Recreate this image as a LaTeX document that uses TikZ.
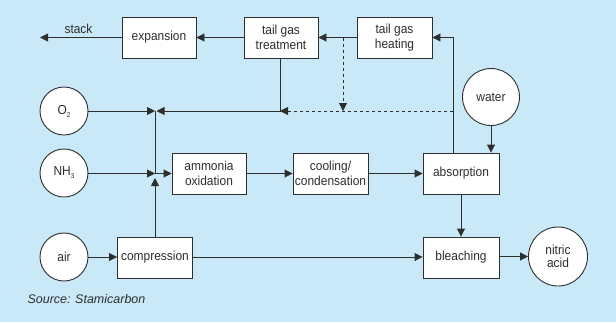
\documentclass[tikz,border=0pt]{standalone}
\usepackage{fontspec}
\setmainfont[FakeStretch=0.92]{Liberation Sans}
\newfontfamily\srcfont{Liberation Sans}
\usetikzlibrary{arrows.meta,calc}
\definecolor{bg}{HTML}{C9E9F8}
\definecolor{ln}{HTML}{2E2E2E}
\begin{document}
\begin{tikzpicture}[x=1pt,y=-1pt,
  font=\fontsize{13}{15.5}\selectfont,
  every node/.style={text=ln},
  boxnode/.style={draw=ln,line width=0.9pt,fill=white,minimum height=41pt,inner sep=1pt,align=center},
  circnode/.style={draw=ln,line width=0.9pt,fill=white,circle,inner sep=0pt,align=center},
  arr/.style={draw=ln,line width=0.9pt,-{Triangle[length=8pt,width=8pt]}},
  plain/.style={draw=ln,line width=0.9pt},
  dsh/.style={draw=ln,line width=0.9pt,dash pattern=on 3.5pt off 2.5pt}]
\fill[bg] (0,0) rectangle (616,322);
\useasboundingbox (0,0) rectangle (616,322);
% nodes
\node[boxnode,minimum width=74pt] (exp) at (159,37.5) {expansion};
\node[boxnode,minimum width=74pt] (tgt) at (281,37.5) {tail gas\\treatment};
\node[boxnode,minimum width=75pt] (tgh) at (394.5,37.5) {tail gas\\heating};
\node[circnode,minimum size=48pt] (o2) at (64,111) {O{\fontsize{7}{7}\selectfont\raisebox{-3pt}{2}}};
\node[circnode,minimum size=48pt] (nh3) at (64,173) {NH{\fontsize{7}{7}\selectfont\raisebox{-3pt}{3}}};
\node[circnode,minimum size=48pt] (air) at (64,257) {air};
\node[boxnode,minimum width=74pt] (ox) at (209,173.5) {ammonia\\oxidation};
\node[boxnode,minimum width=75pt] (cool) at (330.5,173.5) {cooling/\\condensation};
\node[boxnode,minimum width=76pt] (abs) at (461,173.5) {absorption};
\node[boxnode,minimum width=75pt] (comp) at (155,257.5) {compression};
\node[boxnode,minimum width=76pt] (bleach) at (461,257.5) {bleaching};
\node[circnode,minimum size=57pt] (water) at (491,97) {water};
\node[circnode,minimum size=59pt] (nitric) at (558,256.5) {nitric\\[-3pt]acid};
\node[anchor=base] (stk) at (78.5,33) {stack};
\node[anchor=base west,font=\srcfont\itshape\fontsize{12.5}{14}\selectfont,text=ln] (src) at (24,303) {Source: Stamicarbon};
% junction coordinates
\coordinate (stackend) at (40,37.5);
\coordinate (j1) at (155,111);
\coordinate (j1r) at (156.5,111);
\coordinate (j2) at (155,173.5);
\coordinate (j2u) at (155,178);
\coordinate (j3) at (280,111);
\coordinate (j4) at (343,37.5);
\coordinate (j5) at (343,111);
\coordinate (j6) at (453,111);
\coordinate (c1) at (453,37.5);
% connectors
\draw[arr] (tgt.west) -- (exp.east);
\draw[arr] (exp.west) -- (stackend);
\draw[arr] (tgh.west) -- (tgt.east);
\draw[arr] (abs.north -| c1) |- (tgh.east);
\draw[dsh,-{Triangle[length=8pt,width=8pt]}] (j4) -- (j5);
\draw[dsh] (j6) -- ($(j3)+(9,0)$);
\draw[arr] ($(j3)+(9,0)$) -- (j3);
\draw[arr] (tgt.south -| j3) -- (j3) -- (j1r);
\draw[arr] (o2.east) -- (j1);
\draw[plain] (j1) -- (j2);
\draw[arr] (nh3.east -| nh3.east) -- (nh3.east |- j2) -- (j2);
\draw[arr] (j2) -- (ox.west);
\draw[arr] (comp.north) -- (j2u);
\draw[arr] (ox.east) -- (cool.west);
\draw[arr] (cool.east) -- (abs.west);
\draw[arr] (water.south) -- (abs.north -| water);
\draw[arr] (abs.south) -- (bleach.north);
\draw[arr] (air.east) -- (comp.west |- air.east);
\draw[arr] (comp.east |- air.east) -- (bleach.west |- air.east);
\draw[arr] (bleach.east |- nitric.west) -- (nitric.west);
\end{tikzpicture}
\end{document}
